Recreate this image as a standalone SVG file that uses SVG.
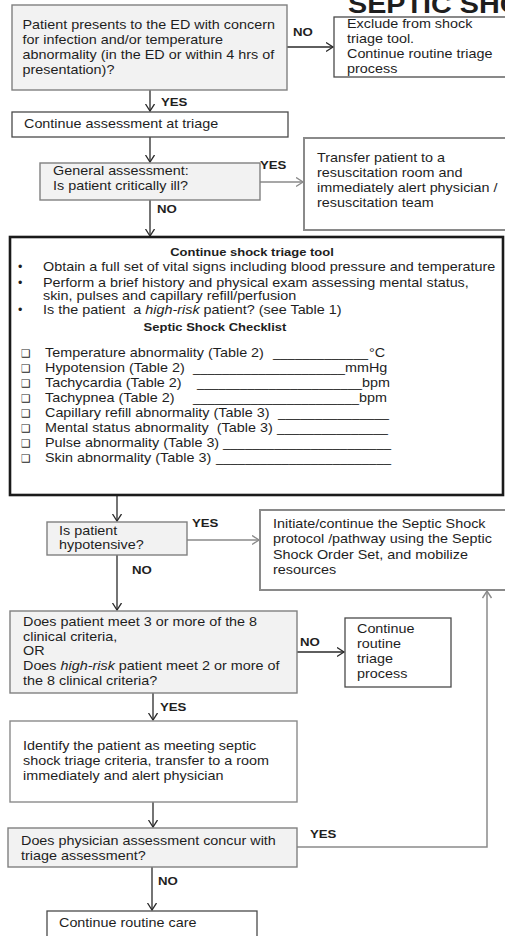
<svg xmlns="http://www.w3.org/2000/svg" width="505" height="936" viewBox="0 0 505 936">
<style>
.t{font-family:"Liberation Sans",Arial,sans-serif;font-size:12.5px;fill:#1e1e1e}
.b{font-family:"Liberation Sans",Arial,sans-serif;font-size:11.5px;font-weight:bold;fill:#1e1e1e}
.h{font-family:"Liberation Sans",Arial,sans-serif;font-size:11.3px;font-weight:bold;fill:#1e1e1e}
.u{font-family:"Liberation Sans",Arial,sans-serif;font-size:12.5px;fill:#1e1e1e}
.ck{font-family:"DejaVu Sans",sans-serif;font-size:10.5px;fill:#1e1e1e}
.gf{fill:#f2f2f2;stroke:#808080;stroke-width:1.4}
.wd{fill:#ffffff;stroke:#4a4a4a;stroke-width:1.3}
.wg{fill:#ffffff;stroke:#8a8a8a;stroke-width:2}
.ed{fill:none;stroke:#2a2a2a;stroke-width:1.3}
.eg{fill:none;stroke:#8a8a8a;stroke-width:1.5}
</style>
<defs>
<marker id="ad" markerUnits="userSpaceOnUse" markerWidth="12" markerHeight="12" refX="7.5" refY="5" orient="auto">
<path d="M0.5,0.5 L7.5,5 L0.5,9.5" fill="none" stroke="#2a2a2a" stroke-width="1.3"/>
</marker>
<marker id="ag" markerUnits="userSpaceOnUse" markerWidth="12" markerHeight="12" refX="7.5" refY="5" orient="auto">
<path d="M0.5,0.5 L7.5,5 L0.5,9.5" fill="none" stroke="#8a8a8a" stroke-width="1.4"/>
</marker>
</defs>
<rect width="505" height="936" fill="#ffffff"/>

<g id="title">
<g transform="translate(348,0) scale(1.15,1)"><text class="t" y="13" style="font-size:25px;font-weight:bold">SEPTIC SHO</text></g>
</g>

<g id="connectors">
<line class="ed" x1="287" y1="47" x2="333" y2="47" marker-end="url(#ad)"/>
<line class="ed" x1="150" y1="90" x2="150" y2="111" marker-end="url(#ad)"/>
<line class="ed" x1="150" y1="137" x2="150" y2="162" marker-end="url(#ad)"/>
<line class="eg" x1="260" y1="182" x2="303" y2="182" marker-end="url(#ag)"/>
<line class="ed" x1="150" y1="200" x2="150" y2="236" marker-end="url(#ad)"/>
<line class="ed" x1="117" y1="495" x2="117" y2="521" marker-end="url(#ad)"/>
<line class="eg" x1="187" y1="540" x2="259" y2="540" marker-end="url(#ag)"/>
<line class="ed" x1="117" y1="555" x2="117" y2="610" marker-end="url(#ad)"/>
<line class="ed" x1="297" y1="652" x2="344" y2="652" marker-end="url(#ad)"/>
<line class="ed" x1="153" y1="693" x2="153" y2="720" marker-end="url(#ad)"/>
<line class="ed" x1="153" y1="802" x2="153" y2="827" marker-end="url(#ad)"/>
<polyline class="eg" points="297,847 487,847 487,591" marker-end="url(#ag)"/>
<line class="ed" x1="152" y1="867" x2="152" y2="910" marker-end="url(#ad)"/>
<g transform="translate(293,0) scale(1.15,1)"><text class="b" y="36">NO</text></g>
<g transform="translate(161,0) scale(1.15,1)"><text class="b" y="106">YES</text></g>
<g transform="translate(260,0) scale(1.15,1)"><text class="b" y="169">YES</text></g>
<g transform="translate(157,0) scale(1.15,1)"><text class="b" y="213">NO</text></g>
<g transform="translate(192,0) scale(1.15,1)"><text class="b" y="527">YES</text></g>
<g transform="translate(132,0) scale(1.15,1)"><text class="b" y="574">NO</text></g>
<g transform="translate(300,0) scale(1.15,1)"><text class="b" y="646">NO</text></g>
<g transform="translate(160,0) scale(1.15,1)"><text class="b" y="711">YES</text></g>
<g transform="translate(310,0) scale(1.15,1)"><text class="b" y="838">YES</text></g>
<g transform="translate(158,0) scale(1.15,1)"><text class="b" y="885">NO</text></g>
</g>

<g id="n1">
<rect class="gf" x="12" y="5" width="275" height="85"/>
<g transform="translate(22.5,0) scale(1.15,1)">
<text class="t" y="29">Patient presents to the ED with concern</text>
<text class="t" y="44">for infection and/or temperature</text>
<text class="t" y="59">abnormality (in the ED or within 4 hrs of</text>
<text class="t" y="74">presentation)?</text>
</g>
</g>

<g id="n2">
<rect class="wd" x="334" y="17" width="180" height="60"/>
<g transform="translate(347,0) scale(1.15,1)">
<text class="t" y="28">Exclude from shock</text>
<text class="t" y="43">triage tool.</text>
<text class="t" y="58">Continue routine triage</text>
<text class="t" y="73">process</text>
</g>
</g>

<g id="n3">
<rect class="wd" x="12" y="112" width="276" height="25"/>
<g transform="translate(24,0) scale(1.15,1)"><text class="t" y="128">Continue assessment at triage</text></g>
</g>

<g id="n4">
<rect class="gf" x="40" y="163" width="220" height="37"/>
<g transform="translate(53,0) scale(1.15,1)">
<text class="t" y="175">General assessment:</text>
<text class="t" y="190">Is patient critically ill?</text>
</g>
</g>

<g id="n5">
<rect class="wg" x="304" y="138" width="210" height="92"/>
<g transform="translate(317,0) scale(1.15,1)">
<text class="t" y="162">Transfer patient to a</text>
<text class="t" y="177">resuscitation room and</text>
<text class="t" y="192">immediately alert physician /</text>
<text class="t" y="207">resuscitation team</text>
</g>
</g>

<g id="n6">
<rect x="10" y="237" width="493" height="258" fill="#ffffff" stroke="#1a1a1a" stroke-width="2.6"/>
<g transform="translate(252,0) scale(1.15,1)"><text class="h" y="256" text-anchor="middle">Continue shock triage tool</text></g>
<text class="t" x="18" y="271">•</text>
<text class="t" x="18" y="287">•</text>
<text class="t" x="18" y="314">•</text>
<g transform="translate(43,0) scale(1.15,1)">
<text class="t" y="271">Obtain a full set of vital signs including blood pressure and temperature</text>
<text class="t" y="287">Perform a brief history and physical exam assessing mental status,</text>
<text class="t" y="300">skin, pulses and capillary refill/perfusion</text>
<text class="t" y="314" xml:space="preserve">Is the patient  a <tspan font-style="italic">high-risk</tspan> patient? (see Table 1)</text>
</g>
<g transform="translate(215,0) scale(1.15,1)"><text class="h" y="331" text-anchor="middle">Septic Shock Checklist</text></g>
<text class="ck" x="21" y="357">❑</text>
<text class="ck" x="21" y="372">❑</text>
<text class="ck" x="21" y="387">❑</text>
<text class="ck" x="21" y="402">❑</text>
<text class="ck" x="21" y="417">❑</text>
<text class="ck" x="21" y="432">❑</text>
<text class="ck" x="21" y="447">❑</text>
<text class="ck" x="21" y="462">❑</text>
<g transform="translate(45,0) scale(1.15,1)">
<text class="t" y="357">Temperature abnormality (Table 2)</text>
<text class="t" y="372">Hypotension (Table 2)</text>
<text class="t" y="387">Tachycardia (Table 2)</text>
<text class="t" y="402">Tachypnea (Table 2)</text>
<text class="t" y="417">Capillary refill abnormality (Table 3)</text>
<text class="t" y="432" xml:space="preserve">Mental status abnormality  (Table 3)</text>
<text class="t" y="447">Pulse abnormality (Table 3)</text>
<text class="t" y="462">Skin abnormality (Table 3)</text>
</g>
<text class="u" x="273" y="357" textLength="95" lengthAdjust="spacingAndGlyphs">_____________</text>
<text class="u" x="193" y="372" textLength="152" lengthAdjust="spacingAndGlyphs">_____________________</text>
<text class="u" x="197" y="387" textLength="165" lengthAdjust="spacingAndGlyphs">_______________________</text>
<text class="u" x="193" y="402" textLength="166" lengthAdjust="spacingAndGlyphs">_______________________</text>
<text class="u" x="278" y="417" textLength="111" lengthAdjust="spacingAndGlyphs">_______________</text>
<text class="u" x="277" y="432" textLength="111" lengthAdjust="spacingAndGlyphs">_______________</text>
<text class="u" x="223" y="447" textLength="168" lengthAdjust="spacingAndGlyphs">_______________________</text>
<text class="u" x="216" y="462" textLength="175" lengthAdjust="spacingAndGlyphs">________________________</text>
<g transform="translate(369,0) scale(1.15,1)"><text class="t" y="357">°C</text></g>
<g transform="translate(345,0) scale(1.15,1)"><text class="t" y="372">mmHg</text></g>
<g transform="translate(362,0) scale(1.15,1)"><text class="t" y="387">bpm</text></g>
<g transform="translate(359,0) scale(1.15,1)"><text class="t" y="402">bpm</text></g>
</g>

<g id="n7">
<rect class="gf" x="47" y="522" width="140" height="33"/>
<g transform="translate(59,0) scale(1.15,1)">
<text class="t" y="535">Is patient</text>
<text class="t" y="549">hypotensive?</text>
</g>
</g>

<g id="n8">
<rect class="wg" x="260" y="510" width="255" height="80"/>
<g transform="translate(273,0) scale(1.15,1)">
<text class="t" y="528">Initiate/continue the Septic Shock</text>
<text class="t" y="543">protocol /pathway using the Septic</text>
<text class="t" y="559">Shock Order Set, and mobilize</text>
<text class="t" y="574">resources</text>
</g>
</g>

<g id="n9">
<rect class="gf" x="10" y="611" width="287" height="82"/>
<g transform="translate(23,0) scale(1.15,1)">
<text class="t" y="626">Does patient meet 3 or more of the 8</text>
<text class="t" y="641">clinical criteria,</text>
<text class="t" y="655">OR</text>
<text class="t" y="670">Does <tspan font-style="italic">high-risk</tspan> patient meet 2 or more of</text>
<text class="t" y="685">the 8 clinical criteria?</text>
</g>
</g>

<g id="n10">
<rect class="wd" x="345" y="618" width="106" height="69"/>
<g transform="translate(357,0) scale(1.15,1)">
<text class="t" y="633">Continue</text>
<text class="t" y="648">routine</text>
<text class="t" y="663">triage</text>
<text class="t" y="678">process</text>
</g>
</g>

<g id="n11">
<rect class="wg" x="10" y="721" width="287" height="81" style="stroke-width:1.4"/>
<g transform="translate(23,0) scale(1.15,1)">
<text class="t" y="750">Identify the patient as meeting septic</text>
<text class="t" y="765">shock triage criteria, transfer to a room</text>
<text class="t" y="780">immediately and alert physician</text>
</g>
</g>

<g id="n12">
<rect class="gf" x="8" y="828" width="289" height="39"/>
<g transform="translate(21,0) scale(1.15,1)">
<text class="t" y="845">Does physician assessment concur with</text>
<text class="t" y="860">triage assessment?</text>
</g>
</g>

<g id="n13">
<rect class="wd" x="47" y="911" width="210" height="30"/>
<g transform="translate(59,0) scale(1.15,1)"><text class="t" y="927">Continue routine care</text></g>
</g>
</svg>
